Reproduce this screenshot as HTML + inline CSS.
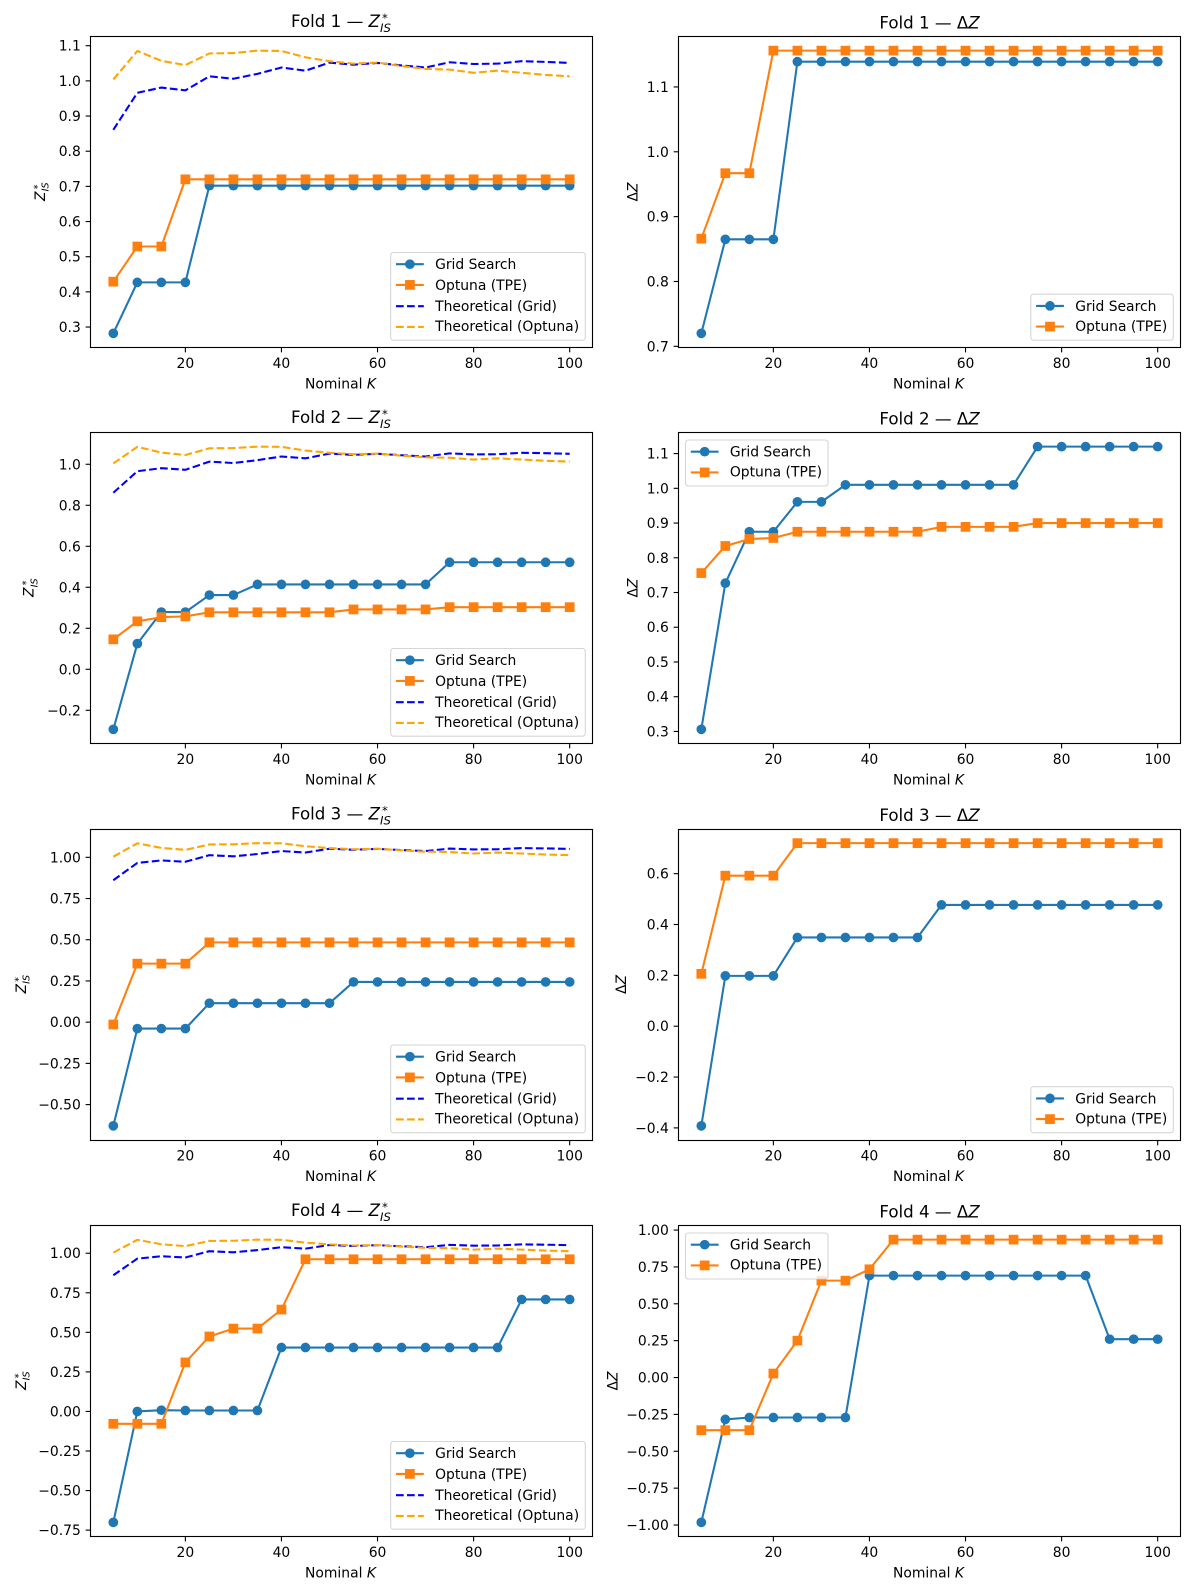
<!DOCTYPE html>
<html lang="en">
<head>
<meta charset="utf-8">
<title>Fold comparison of Grid Search and Optuna</title>
<style>
html,body{margin:0;padding:0;background:#fff;}
svg{display:block;}
text{font-family:"DejaVu Sans","Liberation Sans",sans-serif;fill:#000;}
</style>
</head>
<body>
<svg id="chart" xmlns="http://www.w3.org/2000/svg" width="1189" height="1590" viewBox="0 0 1189 1590"></svg>
<script>
const nominalK = [5,10,15,20,25,30,35,40,45,50,55,60,65,70,75,80,85,90,95,100];
const xTickValues = [20,40,60,80,100];

const theoreticalGrid = [0.861,0.966,0.981,0.973,1.013,1.006,1.020,1.038,1.029,1.052,1.046,1.051,1.044,1.038,1.053,1.048,1.049,1.056,1.054,1.051];
const theoreticalOptuna = [1.004,1.085,1.057,1.045,1.078,1.079,1.086,1.085,1.067,1.056,1.049,1.052,1.042,1.034,1.032,1.023,1.029,1.023,1.017,1.013];

const fold1ZGrid = [0.282,0.427,0.427,0.427,0.702,0.702,0.702,0.702,0.702,0.702,0.702,0.702,0.702,0.702,0.702,0.702,0.702,0.702,0.702,0.702];
const fold1ZOptuna = [0.429,0.529,0.529,0.720,0.720,0.720,0.720,0.720,0.720,0.720,0.720,0.720,0.720,0.720,0.720,0.720,0.720,0.720,0.720,0.720];
const fold1DeltaGrid = [0.720,0.865,0.865,0.865,1.139,1.139,1.139,1.139,1.139,1.139,1.139,1.139,1.139,1.139,1.139,1.139,1.139,1.139,1.139,1.139];
const fold1DeltaOptuna = [0.866,0.967,0.967,1.156,1.156,1.156,1.156,1.156,1.156,1.156,1.156,1.156,1.156,1.156,1.156,1.156,1.156,1.156,1.156,1.156];

const fold2ZGrid = [-0.293,0.125,0.279,0.279,0.362,0.362,0.414,0.414,0.414,0.414,0.414,0.414,0.414,0.414,0.522,0.522,0.522,0.522,0.522,0.522];
const fold2ZOptuna = [0.146,0.234,0.254,0.258,0.278,0.278,0.278,0.278,0.278,0.278,0.292,0.292,0.292,0.292,0.303,0.303,0.303,0.303,0.303,0.303];
const fold2DeltaGrid = [0.306,0.727,0.875,0.875,0.961,0.961,1.010,1.010,1.010,1.010,1.010,1.010,1.010,1.010,1.120,1.120,1.120,1.120,1.120,1.120];
const fold2DeltaOptuna = [0.756,0.834,0.854,0.857,0.875,0.875,0.875,0.875,0.875,0.875,0.889,0.889,0.889,0.889,0.900,0.900,0.900,0.900,0.900,0.900];

const fold3ZGrid = [-0.629,-0.039,-0.039,-0.039,0.115,0.115,0.115,0.115,0.115,0.115,0.244,0.244,0.244,0.244,0.244,0.244,0.244,0.244,0.244,0.244];
const fold3ZOptuna = [-0.014,0.355,0.355,0.355,0.484,0.484,0.484,0.484,0.484,0.484,0.484,0.484,0.484,0.484,0.484,0.484,0.484,0.484,0.484,0.484];
const fold3DeltaGrid = [-0.392,0.198,0.198,0.198,0.349,0.349,0.349,0.349,0.349,0.349,0.477,0.477,0.477,0.477,0.477,0.477,0.477,0.477,0.477,0.477];
const fold3DeltaOptuna = [0.206,0.592,0.592,0.592,0.720,0.720,0.720,0.720,0.720,0.720,0.720,0.720,0.720,0.720,0.720,0.720,0.720,0.720,0.720,0.720];

const fold4ZGrid = [-0.701,0.000,0.008,0.006,0.006,0.006,0.006,0.404,0.404,0.404,0.404,0.404,0.404,0.404,0.404,0.404,0.404,0.708,0.708,0.708];
const fold4ZOptuna = [-0.078,-0.078,-0.078,0.310,0.474,0.524,0.524,0.644,0.962,0.962,0.962,0.962,0.962,0.962,0.962,0.962,0.962,0.962,0.962,0.962];
const fold4DeltaGrid = [-0.982,-0.284,-0.271,-0.271,-0.271,-0.271,-0.271,0.691,0.691,0.691,0.691,0.691,0.691,0.691,0.691,0.691,0.691,0.260,0.260,0.260];
const fold4DeltaOptuna = [-0.357,-0.357,-0.357,0.027,0.250,0.657,0.657,0.734,0.935,0.935,0.935,0.935,0.935,0.935,0.935,0.935,0.935,0.935,0.935,0.935];

const fold1ZTicks = ['0.3','0.4','0.5','0.6','0.7','0.8','0.9','1.0','1.1'];
const fold1DeltaTicks = ['0.7','0.8','0.9','1.0','1.1'];
const fold2ZTicks = ['-0.2','0.0','0.2','0.4','0.6','0.8','1.0'];
const fold2DeltaTicks = ['0.3','0.4','0.5','0.6','0.7','0.8','0.9','1.0','1.1'];
const fold3ZTicks = ['-0.50','-0.25','0.00','0.25','0.50','0.75','1.00'];
const fold3DeltaTicks = ['-0.4','-0.2','0.0','0.2','0.4','0.6'];
const fold4ZTicks = ['-0.75','-0.50','-0.25','0.00','0.25','0.50','0.75','1.00'];
const fold4DeltaTicks = ['-1.00','-0.75','-0.50','-0.25','0.00','0.25','0.50','0.75','1.00'];

const SVG_NS = 'http://www.w3.org/2000/svg';
const chart = document.getElementById('chart');
const BLUE = '#1f77b4';
const ORANGE = '#ff7f0e';
const DASH = '7.7 3.33';
const LINE_W = 2.08;

const rowTops = [36.5, 432.5, 829, 1225.5];
const rowBottoms = [347.5, 743.5, 1140, 1536.5];
const frameTops = [36.5, 432.5, 829.5, 1225.5];
const frameBottoms = [347.5, 743.5, 1140.5, 1536.5];
const colLefts = [90.5, 678.5];
const colRights = [592.5, 1180.5];

const panels = [
  {fold:1, kind:'z', row:0, col:0, grid:fold1ZGrid, optuna:fold1ZOptuna, ticks:fold1ZTicks, labelX:45, legend:'lower'},
  {fold:1, kind:'delta', row:0, col:1, grid:fold1DeltaGrid, optuna:fold1DeltaOptuna, ticks:fold1DeltaTicks, labelX:637.5, legend:'lower'},
  {fold:2, kind:'z', row:1, col:0, grid:fold2ZGrid, optuna:fold2ZOptuna, ticks:fold2ZTicks, labelX:33.7, legend:'lower'},
  {fold:2, kind:'delta', row:1, col:1, grid:fold2DeltaGrid, optuna:fold2DeltaOptuna, ticks:fold2DeltaTicks, labelX:637.5, legend:'upper'},
  {fold:3, kind:'z', row:2, col:0, grid:fold3ZGrid, optuna:fold3ZOptuna, ticks:fold3ZTicks, labelX:26, legend:'lower'},
  {fold:3, kind:'delta', row:2, col:1, grid:fold3DeltaGrid, optuna:fold3DeltaOptuna, ticks:fold3DeltaTicks, labelX:626, legend:'lower'},
  {fold:4, kind:'z', row:3, col:0, grid:fold4ZGrid, optuna:fold4ZOptuna, ticks:fold4ZTicks, labelX:26, legend:'lower'},
  {fold:4, kind:'delta', row:3, col:1, grid:fold4DeltaGrid, optuna:fold4DeltaOptuna, ticks:fold4DeltaTicks, labelX:617.7, legend:'upper'}
];

function make(tag, attrs, parent) {
  const node = document.createElementNS(SVG_NS, tag);
  for (const key in attrs) node.setAttribute(key, attrs[key]);
  parent.appendChild(node);
  return node;
}

function addMarker(parent, shape, cx, cy, color, name) {
  let mark;
  if (shape === 'circle') {
    mark = make('circle', {cx: cx, cy: cy, r: 4.86, fill: color}, parent);
  } else {
    mark = make('rect', {x: cx - 4.86, y: cy - 4.86, width: 9.72, height: 9.72, fill: color}, parent);
  }
  
  
}

function addLine(parent, xs, ys, color, dashed, name) {
  const pts = xs.map((x, i) => x + ',' + ys[i]).join(' ');
  const attrs = {points: pts, fill: 'none', stroke: color, 'stroke-width': LINE_W, 'stroke-linejoin': 'round'};
  if (dashed) attrs['stroke-dasharray'] = DASH;
  const line = make('polyline', attrs, parent);
  
  
}

function addLegend(parent, p, left, right, top, bottom) {
  const lowerNudge = p.kind === 'delta' && p.legend === 'lower' ? 0.5 : 0;
  const entries = p.kind === 'z'
    ? [['Grid Search', BLUE, 'circle', false, 11.7, 16.7],
       ['Optuna (TPE)', ORANGE, 'rect', false, 32.4, 37.7],
       ['Theoretical (Grid)', 'blue', null, true, 53.7, 58.4],
       ['Theoretical (Optuna)', 'orange', null, true, 74.4, 78.4]]
    : [['Grid Search', BLUE, 'circle', false, 11.7, 16.4 + lowerNudge],
       ['Optuna (TPE)', ORANGE, 'rect', false, 32.4, 36.4 + lowerNudge]];
  const w = p.kind === 'z' ? 194.6 : 142.5;
  const h = p.kind === 'z' ? 87.7 : 46;
  const x0 = p.legend === 'upper' ? left + 7 : right - 7.2 - w;
  const y0 = p.legend === 'upper' ? top + 7.5 : bottom - 7.3 - h;
  const legend = make('g', {}, parent);
  
  
  const frame = make('rect', {x: x0, y: y0, width: w, height: h, rx: 2.8, ry: 2.8, fill: '#fff', 'fill-opacity': 0.8, stroke: '#ccc', 'stroke-opacity': 0.8, 'stroke-width': 1.1}, legend);
  
  
  for (const entry of entries) {
    const label = entry[0], color = entry[1], shape = entry[2], dashed = entry[3], handleY = y0 + entry[4], textY = y0 + entry[5];
    const handle = make('line', {x1: x0 + 5.3, x2: x0 + 33.1, y1: handleY, y2: handleY, stroke: color, 'stroke-width': LINE_W}, legend);
    if (dashed) handle.setAttribute('stroke-dasharray', DASH);
    
    
    if (shape) addMarker(legend, shape, x0 + 19.2, handleY, color, 'legend-marker');
    const text = make('text', {x: x0 + 44.4, y: textY, 'font-size': 13.89}, legend);
    text.textContent = label;
    
    
  }
}

function addTitle(parent, p, cx, top) {
  const title = make('g', {}, parent);
  
  
  if (p.kind === 'z') {
    const y = top - 9.3;
    const main = make('text', {x: cx - 50.5, y: y, 'font-size': 16.67}, title);
    main.textContent = 'Fold ' + p.fold + ' \u2014 ';
    main.setAttribute('xml:space', 'preserve');
    main.style.whiteSpace = 'pre';
    const z = make('tspan', {'font-style': 'italic'}, main);
    z.textContent = 'Z';
    const sub = make('text', {x: cx + 38.5, y: y + 5, 'font-size': 11.67, 'font-style': 'italic'}, title);
    sub.textContent = 'IS';
    const sup = make('text', {x: cx + 40.5, y: y - 5.4, 'font-size': 11.67}, title);
    sup.textContent = '*';
  } else {
    const main = make('text', {x: cx, y: top - 8, 'font-size': 16.67, 'text-anchor': 'middle'}, title);
    main.textContent = 'Fold ' + p.fold + ' \u2014 \u0394';
    const z = make('tspan', {'font-style': 'italic'}, main);
    z.textContent = 'Z';
  }
}

function addYLabel(parent, p, cy) {
  const label = make('g', {transform: 'translate(' + p.labelX + ',' + cy + ') rotate(-90)'}, parent);
  
  
  if (p.kind === 'z') {
    const z = make('text', {x: -9, y: 0, 'font-size': 13.89, 'font-style': 'italic'}, label);
    z.textContent = 'Z';
    const sub = make('text', {x: 0.7, y: 3.7, 'font-size': 9.72, 'font-style': 'italic'}, label);
    sub.textContent = 'IS';
    const sup = make('text', {x: 2.6, y: -4.5, 'font-size': 9.72}, label);
    sup.textContent = '*';
  } else {
    const t = make('text', {x: 0, y: 0, 'font-size': 13.89, 'text-anchor': 'middle'}, label);
    t.textContent = '\u0394';
    const z = make('tspan', {'font-style': 'italic'}, t);
    z.textContent = 'Z';
  }
}

function drawPanel(p) {
  const left = colLefts[p.col], right = colRights[p.col];
  const top = rowTops[p.row], bottom = rowBottoms[p.row];
  const group = make('g', {}, chart);
  
  

  const xMin = Math.min.apply(null, nominalK), xMax = Math.max.apply(null, nominalK);
  const xPad = (xMax - xMin) * 0.05;
  const xScale = v => left + (v - (xMin - xPad)) / ((xMax - xMin) + 2 * xPad) * (right - left);

  let all = p.grid.concat(p.optuna);
  if (p.kind === 'z') all = all.concat(theoreticalGrid, theoreticalOptuna);
  const yMin = Math.min.apply(null, all), yMax = Math.max.apply(null, all);
  const yPad = (yMax - yMin) * 0.05;
  const yScale = v => bottom - (v - (yMin - yPad)) / ((yMax - yMin) + 2 * yPad) * (bottom - top);

  const xs = nominalK.map(xScale);

  const gridSeries = make('g', {}, group);
  
  
  const gridYs = p.grid.map(yScale);
  addLine(gridSeries, xs, gridYs, BLUE, false, 'grid-search-line');
  gridYs.forEach((y, i) => addMarker(gridSeries, 'circle', xs[i], y, BLUE, 'grid-search-point'));

  const optunaSeries = make('g', {}, group);
  
  
  const optunaYs = p.optuna.map(yScale);
  addLine(optunaSeries, xs, optunaYs, ORANGE, false, 'optuna-tpe-line');
  optunaYs.forEach((y, i) => addMarker(optunaSeries, 'rect', xs[i], y, ORANGE, 'optuna-tpe-point'));

  if (p.kind === 'z') {
    addLine(group, xs, theoreticalGrid.map(yScale), 'blue', true, 'theoretical-grid-line');
    addLine(group, xs, theoreticalOptuna.map(yScale), 'orange', true, 'theoretical-optuna-line');
  }

  addLegend(group, p, left, right, top, bottom);

  const frameTop = frameTops[p.row], frameBottom = frameBottoms[p.row];
  const frame = make('rect', {x: left, y: frameTop, width: right - left, height: frameBottom - frameTop, fill: 'none', stroke: '#000', 'stroke-width': 1.11}, group);
  
  

  for (const v of xTickValues) {
    const x = xScale(v);
    const tick = make('line', {x1: x, x2: x, y1: frameBottom, y2: frameBottom + 4.86, stroke: '#000', 'stroke-width': 1.11}, group);
    
    
    const label = make('text', {x: x, y: bottom + 20.6, 'font-size': 13.89, 'text-anchor': 'middle'}, group);
    label.textContent = String(v);
    
    
  }

  for (const s of p.ticks) {
    const y = yScale(parseFloat(s));
    const tick = make('line', {x1: left - 4.86, x2: left, y1: y, y2: y, stroke: '#000', 'stroke-width': 1.11}, group);
    
    
    const label = make('text', {x: left - 9.7, y: y + 5, 'font-size': 13.89, 'text-anchor': 'end'}, group);
    label.textContent = s.replace('-', '\u2212');
    
    
  }

  const cx = (left + right) / 2, cy = (top + bottom) / 2;
  const xTitle = make('text', {x: cx - 1, y: bottom + 41, 'font-size': 13.89, 'text-anchor': 'middle'}, group);
  xTitle.textContent = 'Nominal ';
  
  
  const kSpan = make('tspan', {'font-style': 'italic'}, xTitle);
  kSpan.textContent = 'K';

  addTitle(group, p, cx, top);
  addYLabel(group, p, cy);
}

const background = make('rect', {x: 0, y: 0, width: 1189, height: 1590, fill: '#fff'}, chart);


panels.forEach(drawPanel);
</script>
</body>
</html>
